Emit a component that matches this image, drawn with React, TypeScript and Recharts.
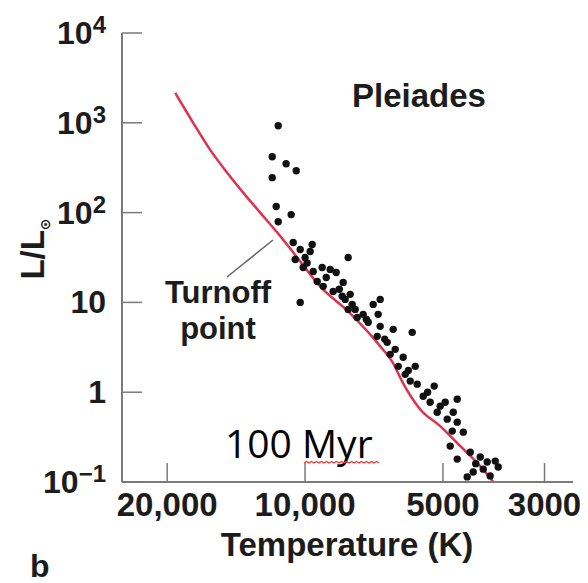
import React from 'react';
import { ComposedChart, Scatter, Line, XAxis, YAxis, Customized } from 'recharts';

// Isochrone (100 Myr) — temperature (K) and luminosity (L/Lsun)
const isochroneT = [19210, 17550, 16110, 14790, 13650, 12530, 11500, 10610, 9270, 7970, 6850, 6420, 6110, 5610, 5070, 4580, 4150, 3880];
const isochroneL = [2150, 1000, 500, 278, 167, 100, 60, 36, 15.1, 7.55, 3.24, 2.1, 1.26, 0.647, 0.419, 0.251, 0.151, 0.1];

// Pleiades stars — temperature (K) and luminosity (L/Lsun)
const starT = [11445, 11795, 11000, 10453, 11795, 11560, 10723, 11445, 10614, 10247, 9648, 9746, 10507, 8051, 10095, 9599, 9175, 8813, 8551, 9408, 9128, 8682, 8255, 8297, 7970, 10247, 7891, 8174, 7772, 7467, 7100, 6854, 6924, 7280, 6854, 6420, 5835, 6959, 6618, 6356, 6519, 6106, 6260, 5747, 6044, 5893, 5690, 5224, 5521, 5331, 5069, 4943, 4653, 5146, 4893, 4747, 4653, 4771, 4514, 4820, 4653, 4359, 4145, 4002, 3844, 3787, 4294, 4426, 4083, 3943, 8051, 7695, 10000, 8990, 9900, 8420, 7350, 6700, 5950, 5400, 4240];
const starL = [926, 419, 350, 293, 245, 117, 95, 79, 46.4, 38.8, 44.1, 36.9, 30.0, 31.6, 24.5, 22.1, 24.5, 23.3, 21.5, 17.1, 15.1, 13.2, 16.7, 11.7, 12.3, 10, 9.5, 10.8, 8.36, 7.36, 9.5, 10.8, 7.36, 6.0, 5.41, 5.01, 4.64, 4.19, 3.59, 3.0, 2.64, 2.45, 1.94, 1.94, 1.58, 1.33, 1.23, 1.17, 0.903, 0.774, 0.699, 0.774, 0.836, 0.599, 0.501, 0.599, 0.464, 0.369, 0.359, 0.251, 0.18, 0.215, 0.19, 0.167, 0.171, 0.147, 0.129, 0.114, 0.139, 0.117, 8.36, 6.81, 31.6, 18.9, 27.5, 14.0, 6.5, 3.9, 1.75, 1.0, 0.16];

// Axis ticks
const xTicks = [20000, 10000, 5000, 3000];
const xTickLabels = ['20,000', '10,000', '5000', '3000'];
const yTicks = [0.1, 1, 10, 100, 1000, 10000];
const yTickBase = ['10', '1', '10', '10', '10', '10'];
const yTickExp = ['\u22121', '', '', '2', '3', '4'];

const isochrone = isochroneT.map((t, i) => ({ T: t, L: isochroneL[i] }));
const stars = starT.map((t, i) => ({ T: t, L: starL[i] }));

const FONT = '"Liberation Sans", Arial, Helvetica, sans-serif';
const TEXT = '#1c1c1c';
const FRAME = '#7a7a7a';

const XTick = (props: any) => {
  const { x, y, payload } = props;
  const idx = xTicks.indexOf(payload.value);
  return (
    <g>
      <line x1={x} x2={x} y1={y} y2={y - 19} stroke={FRAME} strokeWidth={1.5} />
      <text x={x} y={y + 34} textAnchor="middle" fontFamily={FONT} fontWeight="bold" fontSize={33} fill={TEXT}>
        {idx >= 0 ? xTickLabels[idx] : ''}
      </text>
    </g>
  );
};

const YTick = (props: any) => {
  const { x, y, payload } = props;
  const idx = yTicks.indexOf(payload.value);
  const exp = idx >= 0 ? yTickExp[idx] : '';
  return (
    <g>
      <line x1={x} x2={x + 20} y1={y} y2={y} stroke={FRAME} strokeWidth={1.5} />
      <text x={x - 16} y={y + 11} textAnchor="end" fontFamily={FONT} fontWeight="bold" fontSize={32} fill={TEXT}>
        {idx >= 0 ? yTickBase[idx] : ''}
        {exp ? (
          <tspan fontSize={24} dy={-11}>{exp}</tspan>
        ) : null}
      </text>
    </g>
  );
};

const StarDot = (props: any) => {
  const { cx, cy } = props;
  return <circle cx={cx} cy={cy} r={3.7} fill="#111" />;
};

const wave = 'M296,455' + ' l2.5,-1.6 l2.5,1.6'.repeat(15);

const Annotations = () => (
  <g fontFamily={FONT} fontWeight="bold" fill={TEXT}>
    <text x={411} y={99} textAnchor="middle" fontSize={33}>Pleiades</text>
    <text x={210} y={295} textAnchor="middle" fontSize={31}>Turnoff</text>
    <text x={210} y={331} textAnchor="middle" fontSize={31}>point</text>
    <line x1={219} y1={269} x2={265} y2={232} stroke="#666" strokeWidth={1.5} />
    <text x={339} y={548} textAnchor="middle" fontSize={33}>Temperature (K)</text>
    <text x={22} y={569} fontSize={32}>b</text>
    <text transform="translate(36,241) rotate(-90)" textAnchor="middle" fontSize={33}>
      L/L<tspan fontSize={14} dy={6} fontFamily='"DejaVu Sans", sans-serif'>{'\u2299'}</tspan>
    </text>
    <text x={217} y={450} fontFamily='"Open Sans", "Liberation Sans", sans-serif' fontWeight="normal" fontSize={39} fill="#000">
      100 Myr
    </text>
    <path d={wave} fill="none" stroke="#e53935" strokeWidth={1.2} />
  </g>
);

export default function App() {
  return (
    <ComposedChart
      width={580}
      height={575}
      margin={{ top: 25, right: 15, bottom: 0, left: 0 }}
      style={{ background: '#fff' }}
    >
      <XAxis
        dataKey="T"
        type="number"
        scale="log"
        domain={[2600, 25100]}
        reversed
        allowDataOverflow
        ticks={xTicks}
        tick={<XTick />}
        tickLine={false}
        tickSize={0}
        tickMargin={0}
        height={101}
        axisLine={{ stroke: FRAME, strokeWidth: 2 }}
        interval={0}
      />
      <XAxis
        xAxisId="top"
        orientation="top"
        type="number"
        scale="log"
        domain={[2600, 25100]}
        reversed
        allowDataOverflow
        height={0}
        tick={false}
        tickLine={false}
        axisLine={{ stroke: FRAME, strokeWidth: 2 }}
      />
      <YAxis
        dataKey="L"
        type="number"
        scale="log"
        domain={[0.1, 10000]}
        allowDataOverflow
        ticks={yTicks}
        tick={<YTick />}
        tickLine={false}
        tickSize={0}
        tickMargin={0}
        width={114}
        axisLine={{ stroke: FRAME, strokeWidth: 2 }}
        interval={0}
      />
      <YAxis
        yAxisId="right"
        orientation="right"
        type="number"
        scale="log"
        domain={[0.1, 10000]}
        allowDataOverflow
        width={0}
        tick={false}
        tickLine={false}
        axisLine={{ stroke: FRAME, strokeWidth: 2 }}
      />
      <Scatter data={stars} dataKey="L" shape={<StarDot />} isAnimationActive={false} />
      <Line
        data={isochrone}
        dataKey="L"
        type="monotone"
        stroke="#e2304f"
        strokeWidth={2.5}
        dot={false}
        activeDot={false}
        isAnimationActive={false}
      />
      <Customized component={Annotations} />
    </ComposedChart>
  );
}
